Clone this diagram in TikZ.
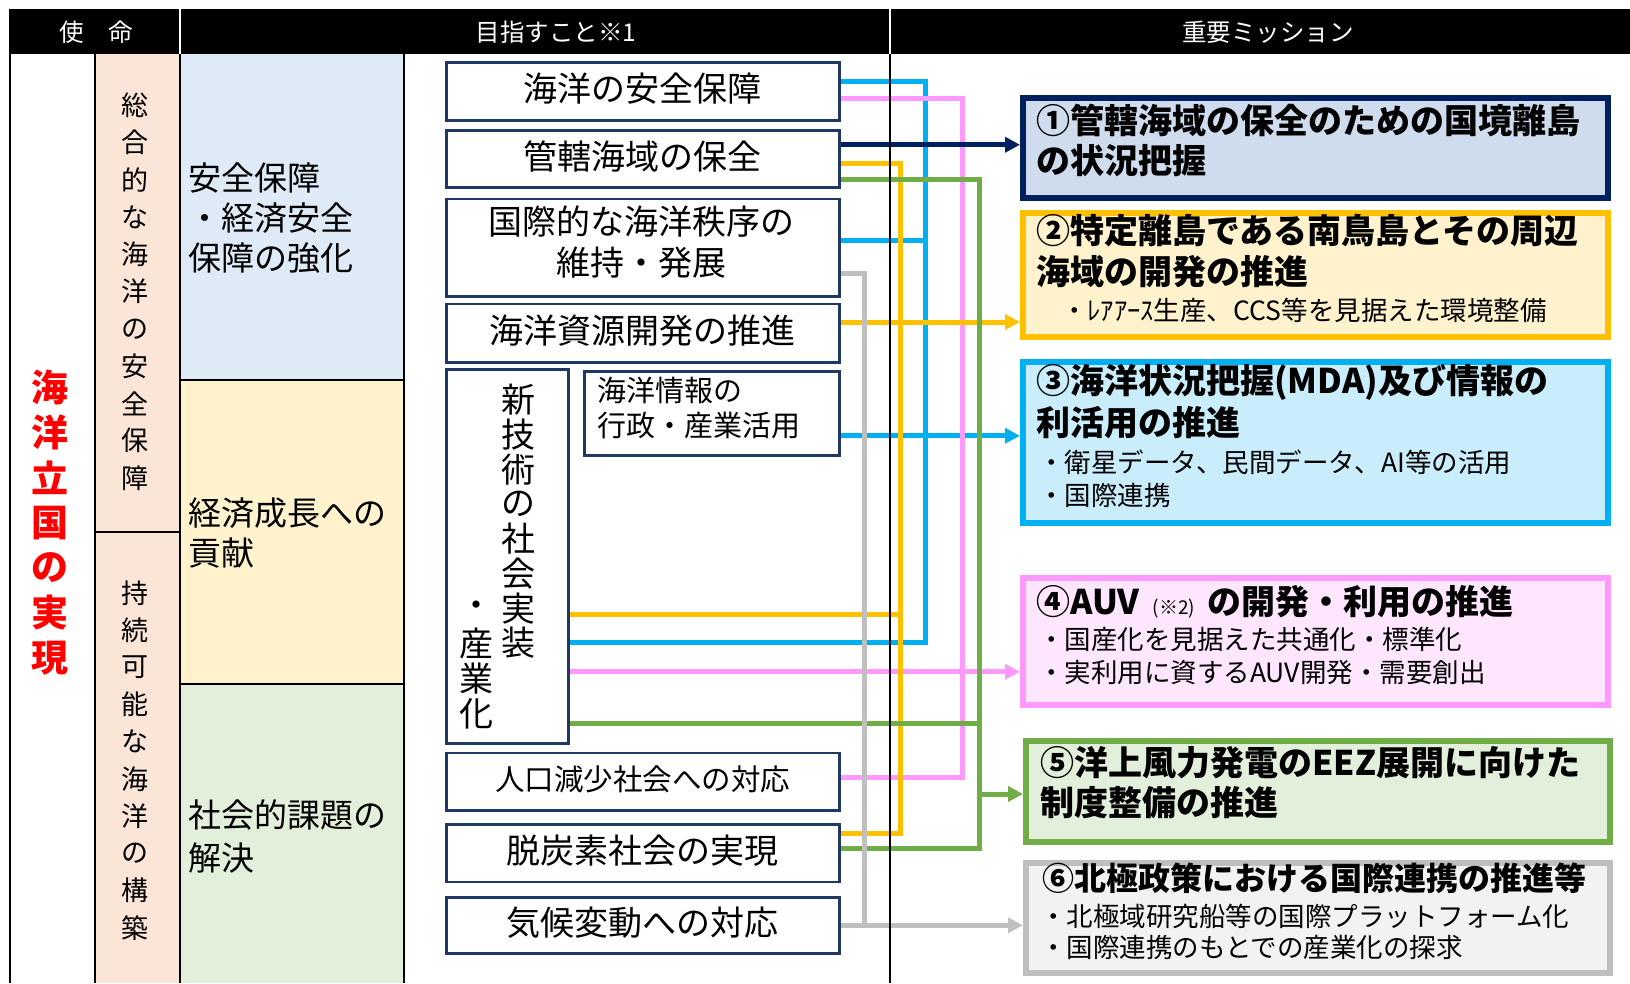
\documentclass[tikz,border=0pt]{standalone}
\usepackage{fontspec}
\setmainfont{Noto Sans CJK JP}
\usetikzlibrary{arrows.meta}
\newcommand\fsz[1]{\fontsize{#1}{#1}\selectfont}
\definecolor{navyb}{HTML}{1F3864}
\definecolor{navyarr}{HTML}{002060}
\definecolor{cyanl}{HTML}{00B0F0}
\definecolor{pinkl}{HTML}{FF99FF}
\definecolor{orangel}{HTML}{FFC000}
\definecolor{greenl}{HTML}{70AD47}
\definecolor{grayl}{HTML}{BFBFBF}
\definecolor{peach}{HTML}{FBE5D6}
\definecolor{bluebg}{HTML}{DEEBF7}
\definecolor{yellowbg}{HTML}{FFF2CC}
\definecolor{greenbg}{HTML}{E2EFDA}
\definecolor{rone}{HTML}{CEDCEE}
\definecolor{rthree}{HTML}{C9EDFA}
\definecolor{rfour}{HTML}{FFE6FF}
\definecolor{rsix}{HTML}{F2F2F2}
\begin{document}
\begin{tikzpicture}[x=1pt,y=-1pt,
  lbox/.style={draw=navyb,line width=2.5pt,fill=white,anchor=north west,inner sep=0pt,font=\fsz{34},text height=26pt,text depth=5.2pt},
  rbox/.style={line width=6pt,anchor=north west,inner sep=0pt},
  conn/.style={line width=5pt},
  arr/.style={line width=5pt,-{Triangle[length=15pt,width=15pt]}},
  ttl/.style={anchor=west,inner sep=0pt,font=\bfseries\fsz{34}},
  subtxt/.style={anchor=west,inner sep=0pt,font=\fsz{26.5}},
  ctxt/.style={anchor=west,inner sep=0pt,font=\fsz{33}},
  vchar/.style={inner sep=0pt,font=\fsz{27}},
  rchar/.style={inner sep=0pt,font=\bfseries\fsz{37},text=red},
  tchar/.style={inner sep=0pt,font=\fsz{34}},
  hdr/.style={inner sep=0pt,text=white,font=\fsz{24.5}}]
\useasboundingbox (0,0) rectangle (1630,983);
\fill[white] (0,0) rectangle (1630,983);
% header
\fill[black] (9,9) rectangle (1630,54);
\draw[white,line width=1.5pt] (180,9) -- (180,54) (890,9) -- (890,54);
\node[hdr] (h1) at (96,32) {使\hspace{25pt}命};
\node[hdr] (h2) at (556,32) {目指すこと※1};
\node[hdr] (h3) at (1268,32) {重要ミッション};
% left table
\fill[peach] (95,54) rectangle (180,983);
\fill[bluebg] (180,54) rectangle (404,380);
\fill[yellowbg] (180,380) rectangle (404,684);
\fill[greenbg] (180,684) rectangle (404,983);
\draw[line width=2pt] (10,54) -- (10,983) (95,54) -- (95,983) (180,54) -- (180,983) (404,54) -- (404,983)
  (95,532) -- (180,532) (180,380) -- (404,380) (180,684) -- (404,684);
\foreach \c [count=\i from 0] in {海,洋,立,国,の,実,現}
  \node[rchar] (rc\i) at (50,{387+45.2*\i}) {\c};
\foreach \c [count=\i from 0] in {総,合,的,な,海,洋,の,安,全,保,障}
  \node[vchar] (sa\i) at (135,{105+37.3*\i}) {\c};
\foreach \c [count=\i from 0] in {持,続,可,能,な,海,洋,の,構,築}
  \node[vchar] (sb\i) at (135,{593+37.2*\i}) {\c};
\node[ctxt] (c1) at (188,178) {安全保障};
\node[ctxt] (c2) at (188,218) {・経済安全};
\node[ctxt] (c3) at (188,258) {保障の強化};
\node[ctxt] (c4) at (188,513) {経済成長への};
\node[ctxt] (c5) at (188,553) {貢献};
\node[ctxt] (c6) at (188,815) {社会的課題の};
\node[ctxt] (c7) at (188,858) {解決};
% middle boxes
\node[lbox,minimum width=393pt,minimum height=58pt] (b1) at (445,61) {海洋の安全保障};
\node[lbox,minimum width=393pt,minimum height=57pt] (b2) at (445,129) {管轄海域の保全};
\node[lbox,minimum width=393pt,minimum height=97.5pt] (b3) at (445,197.5) {};
\node[inner sep=0pt,font=\fsz{34}] (b3a) at (641.5,221.5) {国際的な海洋秩序の};
\node[inner sep=0pt,font=\fsz{34}] (b3b) at (641.5,262.5) {維持・発展};
\node[lbox,minimum width=393pt,minimum height=58.5pt] (b4) at (445,302.5) {海洋資源開発の推進};
\node[lbox,minimum width=122pt,minimum height=374pt] (nt) at (445,368) {};
\foreach \c [count=\i from 0] in {新,技,術,の,社,会,実,装}
  \node[tchar] (ta\i) at (518,{400+34.7*\i}) {\c};
\foreach \c [count=\i from 0] in {・,産,業,化}
  \node[tchar] (tb\i) at (476,{609+35*\i}) {\c};
\node[lbox,minimum width=255pt,minimum height=84pt] (b6) at (583,370) {};
\node[anchor=west,inner sep=0pt,font=\fsz{29}] (b6a) at (597,390) {海洋情報の};
\node[anchor=west,inner sep=0pt,font=\fsz{29}] (b6b) at (597,426) {行政・産業活用};
\node[lbox,minimum width=393pt,minimum height=57.5pt,font=\fsz{29.5},text height=23pt,text depth=5pt] (b7) at (445,751.5) {人口減少社会への対応};
\node[lbox,minimum width=393pt,minimum height=57.5pt] (b8) at (445,823) {脱炭素社会の実現};
\node[lbox,minimum width=393pt,minimum height=56pt] (b9) at (445,896) {気候変動への対応};
% right boxes
\node[rbox,draw=navyarr,fill=rone,minimum width=585pt,minimum height=100pt] (r1) at (1020,94.5) {};
\node[rbox,draw=orangel,fill=yellowbg,minimum width=585pt,minimum height=124pt] (r2) at (1020,210) {};
\node[rbox,draw=cyanl,fill=rthree,minimum width=585pt,minimum height=161.5pt] (r3) at (1020,358.5) {};
\node[rbox,draw=pinkl,fill=rfour,minimum width=585pt,minimum height=127pt] (r4) at (1020,575) {};
\node[rbox,draw=greenl,fill=greenbg,minimum width=584pt,minimum height=101pt] (r5) at (1023,738) {};
\node[rbox,draw=grayl,fill=rsix,minimum width=584pt,minimum height=110pt] (r6) at (1023,860) {};
\node[ttl] (t1a) at (1036,120) {①管轄海域の保全のための国境離島};
\node[ttl] (t1b) at (1036,161) {の状況把握};
\node[ttl] (t2a) at (1036,231) {②特定離島である南鳥島とその周辺};
\node[ttl] (t2b) at (1036,272) {海域の開発の推進};
\node[subtxt] (s2a) at (1061,310) {・ﾚｱｱｰｽ生産、CCS等を見据えた環境整備};
\node[ttl] (t3a) at (1036,382) {③海洋状況把握(MDA)及び情報の};
\node[ttl] (t3b) at (1036,423) {利活用の推進};
\node[subtxt] (s3a) at (1038,462) {・衛星データ、民間データ、AI等の活用};
\node[subtxt] (s3b) at (1038,495) {・国際連携};
\node[ttl] (t4a) at (1036,602) {④AUV\hspace{13pt}{\mdseries\fsz{19}(※2)}\hspace{12pt}の開発・利用の推進};
\node[subtxt] (s4a) at (1038,639) {・国産化を見据えた共通化・標準化};
\node[subtxt] (s4b) at (1038,672) {・実利用に資するAUV開発・需要創出};
\node[ttl] (t5a) at (1040,763) {⑤洋上風力発電のEEZ展開に向けた};
\node[ttl] (t5b) at (1040,803) {制度整備の推進};
\node[ttl,font=\bfseries\fsz{32}] (t6a) at (1042,878) {⑥北極政策における国際連携の推進等};
\node[subtxt] (s6a) at (1040,916) {・北極域研究船等の国際プラットフォーム化};
\node[subtxt] (s6b) at (1040,947) {・国際連携のもとでの産業化の探求};
% connector coordinates
\coordinate (vgy) at (864,0);
\coordinate (vor) at (900,0);
\coordinate (vcy) at (925,0);
\coordinate (vpk) at (962,0);
\coordinate (vgr) at (979,0);
\coordinate (cy1) at ([yshift=10pt]b1.east);
\coordinate (cy3) at ([yshift=7pt]b3.east);
\coordinate (cynt) at ([yshift=-86pt]nt.east);
\coordinate (cy6) at ([yshift=-22.5pt]b6.east);
\coordinate (pk1) at ([yshift=-7pt]b1.east);
\coordinate (pk7) at ([yshift=4.5pt]b7.east);
\coordinate (pknt) at ([yshift=-115.5pt]nt.east);
\coordinate (nv2) at ([yshift=14pt]b2.east);
\coordinate (or2) at ([yshift=-4.5pt]b2.east);
\coordinate (or8) at ([yshift=20pt]b8.east);
\coordinate (ornt) at ([yshift=-58pt]nt.east);
\coordinate (or4) at ([yshift=11pt]b4.east);
\coordinate (gr2) at ([yshift=-20.5pt]b2.east);
\coordinate (gr8) at ([yshift=5pt]b8.east);
\coordinate (grnt) at ([yshift=-167.5pt]nt.east);
\coordinate (grar) at (979,794);
\coordinate (gy3) at ([yshift=-26pt]b3.east);
\coordinate (gy9) at (b9.east);
% connectors
\draw[conn,cyanl] (cy1) -| (vcy |- cynt) -- (cynt);
\draw[conn,cyanl] (cy3) -- (vcy |- cy3);
\draw[arr,cyanl] (cy6) -- (cy6 -| r3.west);
\draw[conn,pinkl] (pk1) -| (vpk |- pk7) -- (pk7);
\draw[arr,pinkl] (pknt) -- (pknt -| r4.west);
\draw[conn,orangel] (or2) -| (vor |- or8) -- (or8);
\draw[conn,orangel] (ornt) -- (vor |- ornt);
\draw[arr,orangel] (or4) -- (or4 -| r2.west);
\draw[conn,greenl] (gr2) -| (vgr |- gr8) -- (gr8);
\draw[conn,greenl] (grnt) -- (vgr |- grnt);
\draw[arr,greenl] (grar) -- (grar -| r5.west);
\draw[conn,grayl] (gy3) -| (vgy |- gy9);
\draw[arr,grayl] (gy9) -- (gy9 -| r6.west);
\draw[arr,navyarr] (nv2) -- (nv2 -| r1.west);
\draw[line width=1.3pt] (890,54) -- (890,983);
\end{tikzpicture}
\end{document}
